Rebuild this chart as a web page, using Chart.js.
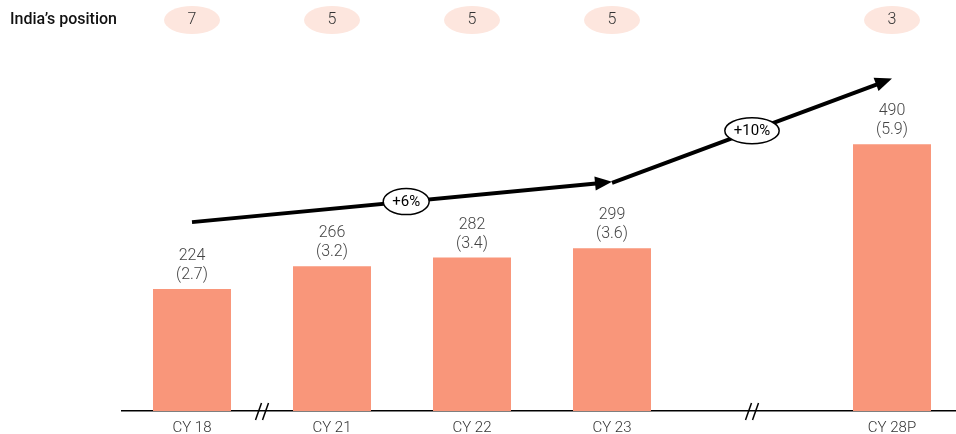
<!DOCTYPE html>
<html>
<head>
<meta charset="utf-8">
<script src="https://cdn.jsdelivr.net/npm/chart.js@4.4.1/dist/chart.umd.min.js"></script>
<style>
  html, body { margin: 0; padding: 0; background: #fff; overflow: hidden; }
  #wrap { width: 956px; height: 434px; overflow: hidden; }
</style>
</head>
<body>
<div id="wrap"><canvas id="marketChart" width="962" height="445"></canvas></div>
<script>
// categories and values
const categories = ['CY 18', 'CY 21', 'CY 22', 'CY 23', '', 'CY 28P'];
const marketSize = [224, 266, 282, 299, null, 490];
const shareLabels = ['(2.7)', '(3.2)', '(3.4)', '(3.6)', null, '(5.9)'];
const indiaPosition = [7, 5, 5, 5, null, 3];

// growth arrows: [category index, value] pairs on the chart's own scales
const growthArrows = [
    { from: [0, 347], to: [3, 421], label: '+6%', at: 0.51 },
    { from: [3, 419], to: [5, 611], label: '+10%', at: 0.5 }
];
// positions (in category units) of the "//" axis breaks
const axisBreaks = [0.5, 4];

const barColor = '#F9967A';
const fontFamily = 'Roboto, "Open Sans", sans-serif';

const annotationsPlugin = {
    id: 'annotations',
    afterDatasetsDraw(chart) {
        const { ctx, scales: { x, y }, chartArea } = chart;
        const xAt = (i) => {
            const lo = Math.floor(i), hi = Math.ceil(i);
            const a = x.getPixelForValue(lo), b = x.getPixelForValue(hi);
            return a + (b - a) * (i - lo);
        };
        ctx.save();

        // value + share labels above bars
        ctx.fillStyle = '#444';
        ctx.font = '300 16px ' + fontFamily;
        ctx.textAlign = 'center';
        ctx.textBaseline = 'middle';
        marketSize.forEach((v, i) => {
            if (v == null) return;
            const px = x.getPixelForValue(i);
            const top = y.getPixelForValue(v);
            ctx.fillText(String(v), px, top - 33);
            ctx.fillText(shareLabels[i], px, top - 14);
        });

        // India's position row
        ctx.fillStyle = '#111';
        ctx.font = '500 16px ' + fontFamily;
        ctx.textAlign = 'left';
        ctx.fillText('India\u2019s position', 10, 20);
        indiaPosition.forEach((p, i) => {
            if (p == null) return;
            const px = x.getPixelForValue(i);
            ctx.fillStyle = '#FDE6DE';
            ctx.beginPath();
            ctx.ellipse(px, 20, 28, 14, 0, 0, Math.PI * 2);
            ctx.fill();
            ctx.fillStyle = '#333';
            ctx.font = '300 16px ' + fontFamily;
            ctx.textAlign = 'center';
            ctx.fillText(String(p), px, 20);
        });

        // growth arrows with CAGR ovals
        growthArrows.forEach((g) => {
            const x1 = xAt(g.from[0]), y1 = y.getPixelForValue(g.from[1]);
            const x2 = xAt(g.to[0]), y2 = y.getPixelForValue(g.to[1]);
            const ang = Math.atan2(y2 - y1, x2 - x1);
            const headLen = 17, headW = 7;
            const bx = x2 - headLen * Math.cos(ang), by = y2 - headLen * Math.sin(ang);
            ctx.strokeStyle = '#000';
            ctx.lineWidth = 4;
            ctx.beginPath();
            ctx.moveTo(x1, y1);
            ctx.lineTo(bx + 1, by);
            ctx.stroke();
            ctx.fillStyle = '#000';
            ctx.beginPath();
            ctx.moveTo(x2, y2);
            ctx.lineTo(bx + headW * Math.sin(ang), by - headW * Math.cos(ang));
            ctx.lineTo(bx - headW * Math.sin(ang), by + headW * Math.cos(ang));
            ctx.closePath();
            ctx.fill();

            const cx = x1 + (x2 - x1) * g.at, cy = y1 + (y2 - y1) * g.at;
            ctx.font = '400 15px ' + fontFamily;
            const w = ctx.measureText(g.label).width / 2 + 9;
            ctx.fillStyle = '#fff';
            ctx.lineWidth = 1.5;
            ctx.beginPath();
            ctx.ellipse(cx, cy, w, 13, 0, 0, Math.PI * 2);
            ctx.fill();
            ctx.stroke();
            ctx.fillStyle = '#000';
            ctx.textAlign = 'center';
            ctx.fillText(g.label, cx, cy + 1);
        });

        // axis break marks
        const base = chartArea.bottom;
        ctx.strokeStyle = '#000';
        ctx.lineWidth = 1.5;
        axisBreaks.forEach((b) => {
            const px = xAt(b);
            [-3.5, 3.5].forEach((dx) => {
                ctx.beginPath();
                ctx.moveTo(px + dx - 3, base + 9);
                ctx.lineTo(px + dx + 3, base - 8);
                ctx.stroke();
            });
        });
        ctx.restore();
    }
};

new Chart(document.getElementById('marketChart').getContext('2d'), {
    type: 'bar',
    data: {
        labels: categories,
        datasets: [{
            data: marketSize,
            backgroundColor: barColor,
            barPercentage: 0.557,
            categoryPercentage: 1
        }]
    },
    options: {
        responsive: false,
        animation: false,
        devicePixelRatio: 1,
        layout: { padding: { top: 30, left: 122, right: 0, bottom: 0 } },
        plugins: {
            legend: { display: false },
            tooltip: { enabled: false }
        },
        scales: {
            x: {
                grid: { display: false, drawTicks: false, tickLength: 0 },
                border: { display: true, color: '#000', width: 1.5 },
                ticks: {
                    color: '#333',
                    padding: 8,
                    font: { family: fontFamily, size: 15, weight: '300' }
                }
            },
            y: {
                display: false,
                min: 0,
                max: 700
            }
        }
    },
    plugins: [annotationsPlugin]
});
</script>
</body>
</html>
